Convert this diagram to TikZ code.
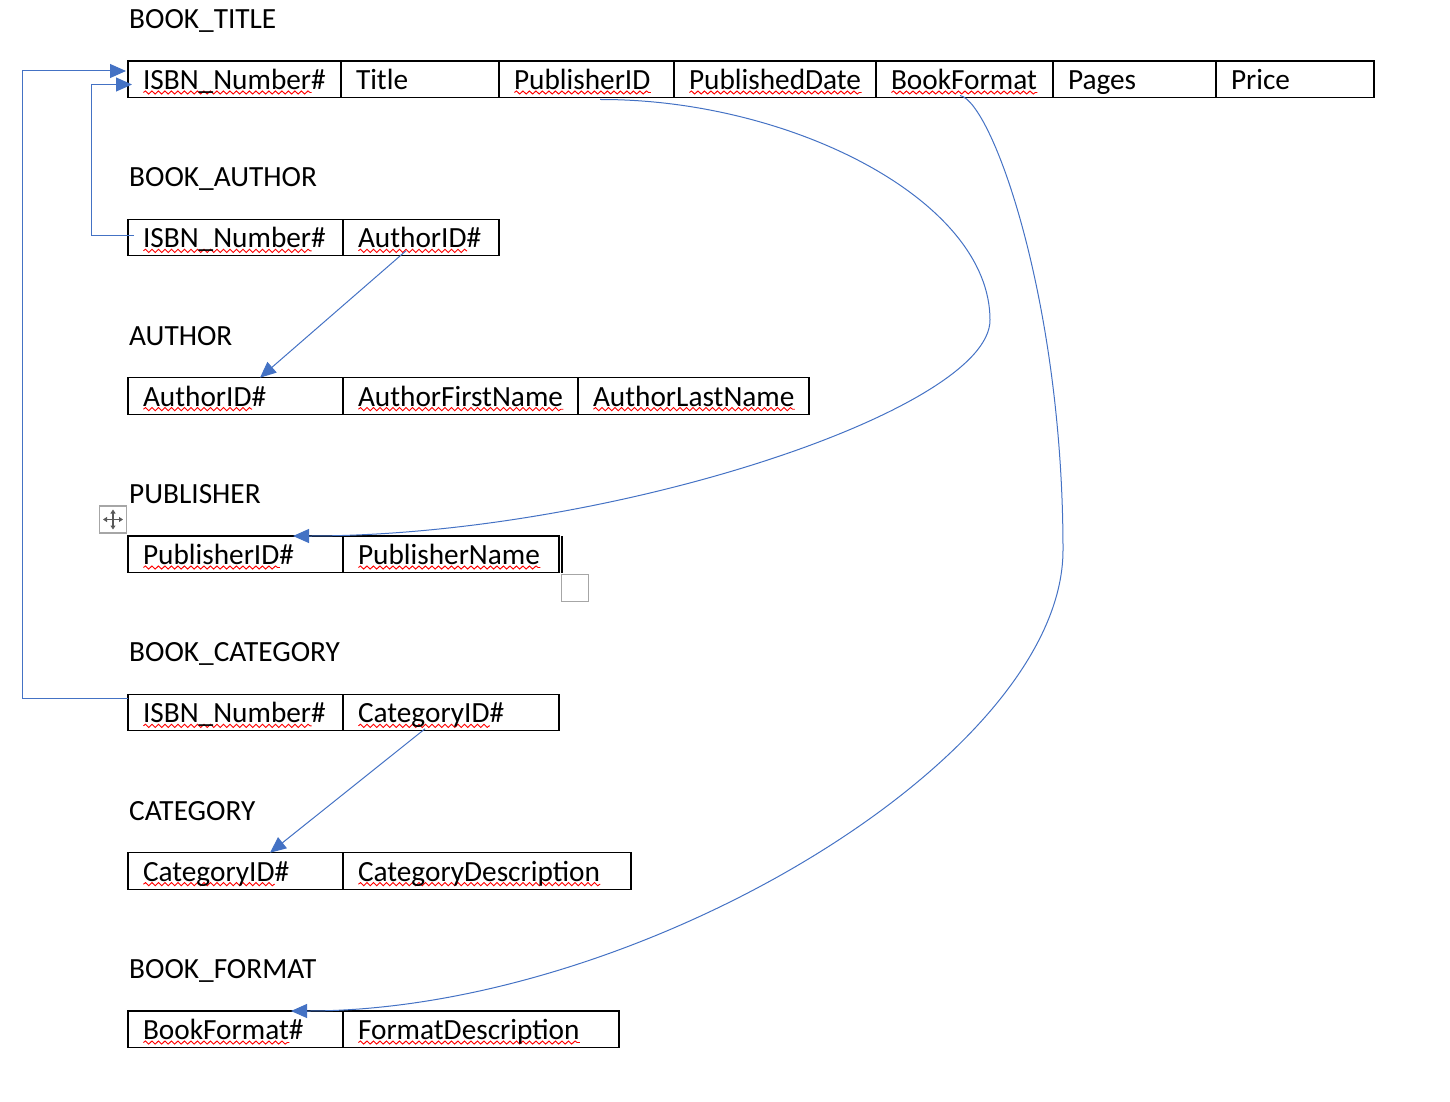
\documentclass[tikz,border=0pt]{standalone}
\usepackage{fontspec}
\setmainfont{Carlito}
\usetikzlibrary{positioning,arrows.meta,decorations.pathmorphing}

\definecolor{fkblue}{HTML}{4472C4}
\definecolor{typored}{HTML}{FF0000}
\definecolor{handlegray}{HTML}{A6A6A6}
\definecolor{icongray}{HTML}{595959}

% red spell-check wave under a word
\newlength\typolen
\newcommand\typo[1]{\settowidth\typolen{#1}%
  \makebox[0pt][l]{\raisebox{-3pt}{\tikz[x=1pt,y=1pt,baseline=0pt]
    \draw[typored,line width=0.9pt,decorate,decoration={snake,amplitude=1.6pt,segment length=6.5pt}] (0,0) -- (\typolen,0);}}#1}

\begin{document}
\begin{tikzpicture}[x=1pt, y=-1pt,
    head/.style={anchor=base west, inner sep=0pt, font=\fontsize{29.3}{35}\selectfont},
    field/.style={draw, line width=1.2pt, anchor=north west, inner xsep=15pt, inner ysep=0pt, outer sep=0pt,
        text height=28.5pt, text depth=8pt, text width=#1, align=left, font=\fontsize{29.3}{35}\selectfont},
    fk/.style={draw=fkblue, line width=1pt, -{Triangle[length=16pt,width=14pt]}},
    handle/.style={draw=handlegray, line width=1.5pt, minimum size=27pt, inner sep=0pt},
    icon/.style={draw=icongray, line width=1.2pt, {Triangle[length=4pt,width=5pt]}-{Triangle[length=4pt,width=5pt]}},
    ]
    \useasboundingbox (0,0) rectangle (1450,1102);

    % BOOK_TITLE
    \node[head] (hTitle) at (129,28.3) {BOOK\_TITLE};
    \node[field=183pt] (bt1) at (128,61) {\typo{ISBN\_Number}\#};
    \node[field=128pt, right=0pt of bt1] (bt2) {Title};
    \node[field=145pt, right=0pt of bt2] (bt3) {\typo{PublisherID}};
    \node[field=172pt, right=0pt of bt3] (bt4) {\typo{PublishedDate}};
    \node[field=147pt, right=0pt of bt4] (bt5) {\typo{BookFormat}};
    \node[field=133pt, right=0pt of bt5] (bt6) {Pages};
    \node[field=128pt, right=0pt of bt6] (bt7) {Price};

    % BOOK_AUTHOR
    \node[head] (hBookAuthor) at (129,186.6) {BOOK\_AUTHOR};
    \node[field=185pt] (ba1) at (128,219.3) {\typo{ISBN\_Number}\#};
    \node[field=126pt, right=0pt of ba1] (ba2) {\typo{AuthorID}\#};

    % AUTHOR
    \node[head] (hAuthor) at (129,345) {AUTHOR};
    \node[field=185pt] (au1) at (128,377.7) {\typo{AuthorID}\#};
    \node[field=205pt, right=0pt of au1] (au2) {\typo{AuthorFirstName}};
    \node[field=201pt, right=0pt of au2] (au3) {\typo{AuthorLastName}};

    % PUBLISHER
    \node[head] (hPublisher) at (129,503.3) {PUBLISHER};
    \node[field=185pt] (pu1) at (128,536) {\typo{PublisherID}\#};
    \node[field=186pt, right=0pt of pu1] (pu2) {\typo{PublisherName}};

    % BOOK_CATEGORY
    \node[head] (hBookCategory) at (129,661.6) {BOOK\_CATEGORY};
    \node[field=185pt] (bc1) at (128,694.3) {\typo{ISBN\_Number}\#};
    \node[field=186pt, right=0pt of bc1] (bc2) {\typo{CategoryID}\#};

    % CATEGORY
    \node[head] (hCategory) at (129,820) {CATEGORY};
    \node[field=185pt] (ca1) at (128,852.7) {\typo{CategoryID}\#};
    \node[field=258pt, right=0pt of ca1] (ca2) {\typo{CategoryDescription}};

    % BOOK_FORMAT
    \node[head] (hBookFormat) at (129,978.3) {BOOK\_FORMAT};
    \node[field=185pt] (bf1) at (128,1011) {\typo{BookFormat}\#};
    \node[field=246pt, right=0pt of bf1] (bf2) {\typo{FormatDescription}};

    % foreign keys
    \draw[fk] ([yshift=-4pt]bc1.north west) -- ++(-106,0) |- ([xshift=-2pt,yshift=-10pt]bt1.north west);
    \draw[fk] ([xshift=6pt,yshift=-16pt]ba1.north west) -- ++(-43,0) |- ([xshift=4pt,yshift=-23.5pt]bt1.north west);
    \draw[fk] ([xshift=63pt,yshift=5pt]ba2.south west) -- ([xshift=132pt]au1.north west);
    \draw[fk] ([xshift=82pt,yshift=2pt]bc2.south west) -- ([xshift=142pt]ca1.north west);
    \coordinate (pubturn) at (990,320);
    \coordinate (fmtturn) at (1063,550);
    \draw[fk] ([xshift=101pt,yshift=-2pt]bt3.south west) .. controls (790,99) and (990,200) .. (pubturn)
        .. controls (990,410) and (610,536) .. ([xshift=165pt]pu1.north west);
    \draw[fk] ([xshift=84pt,yshift=2pt]bt5.south west) .. controls (992,102) and (1063,300) .. (fmtturn)
        .. controls (1063,757) and (640,1011) .. ([xshift=163pt]bf1.north west);

    % table handles and cursor
    \node[handle] (move) at (113,519.5) {};
    \draw[icon] ([yshift=10pt]move.center) -- ([yshift=-10pt]move.center);
    \draw[icon] ([xshift=-10pt]move.center) -- ([xshift=10pt]move.center);
    \node[handle] (resize) at (575,588) {};
    \draw[line width=1.6pt] ([xshift=3pt]pu2.north east) -- ([xshift=3pt]pu2.south east);
\end{tikzpicture}
\end{document}
